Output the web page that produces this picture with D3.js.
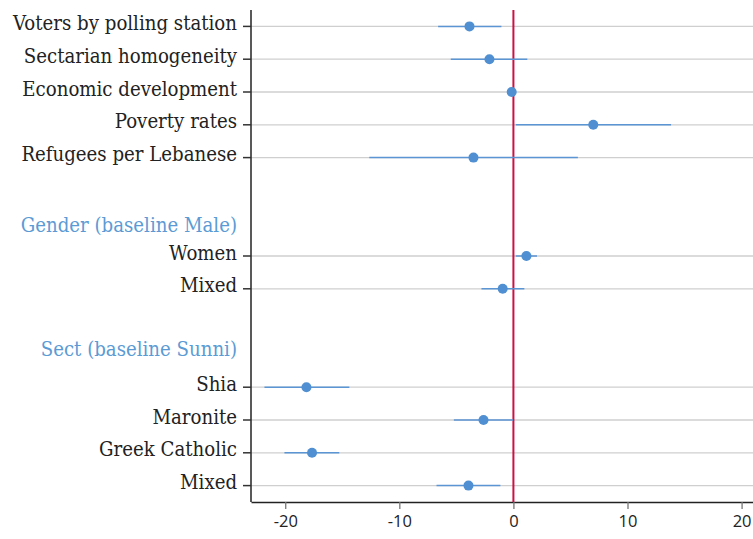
<!DOCTYPE html>
<html>
<head>
<meta charset="utf-8">
<script src="https://cdn.jsdelivr.net/npm/d3@7"></script>
<style>
  html, body { margin: 0; padding: 0; background: #fff; }
  svg { display: block; }
</style>
</head>
<body>
<script>
// Coefficient plot: point estimates with confidence intervals, grouped rows.
const terms = ["Voters by polling station", "Sectarian homogeneity", "Economic development",
  "Poverty rates", "Refugees per Lebanese", "Women", "Mixed", "Shia", "Maronite",
  "Greek Catholic", "Mixed"];
const rowIndex = [0, 1, 2, 3, 4, 7, 8, 11, 12, 13, 14];
const estimates = [-3.85, -2.1, -0.15, 7.0, -3.5, 1.14, -0.94, -18.14, -2.62, -17.65, -3.94];
const lower = [-6.6, -5.49, -0.3, 0.2, -12.63, 0.2, -2.8, -21.82, -5.22, -20.07, -6.74];
const upper = [-1.05, 1.22, 0.0, 13.82, 5.65, 2.07, 0.96, -14.38, -0.03, -15.26, -1.14];
const groupHeaders = ["Gender (baseline Male)", "Sect (baseline Sunni)"];
const groupRow = [6.15, 9.95];
const xTicks = [-20, -10, 0, 10, 20];

const W = 753, H = 539;
const plot = { left: 251, right: 753, top: 10, bottom: 502 };

const svg = d3.select("body").append("svg").attr("width", W).attr("height", H);

const x = d3.scaleLinear().domain([-23, 21]).range([plot.left, plot.right]);
const y = d3.scaleLinear().domain([-0.5, 14.5]).range([plot.top, plot.bottom]);

const rows = terms.map((t, i) => ({ term: t, row: rowIndex[i], est: estimates[i], lo: lower[i], hi: upper[i] }));

const labelFont = "'DejaVu Serif Condensed', 'DejaVu Serif', serif";
const labelSize = 20.2;

// gridlines for each term row
svg.append("g").selectAll("line").data(rows).join("line")
  .attr("x1", plot.left).attr("x2", plot.right)
  .attr("y1", d => y(d.row)).attr("y2", d => y(d.row))
  .attr("stroke", "#cfcfcf").attr("stroke-width", 1.3);

// y axis line and ticks
svg.append("line")
  .attr("x1", plot.left).attr("x2", plot.left)
  .attr("y1", plot.top).attr("y2", plot.bottom)
  .attr("stroke", "#222").attr("stroke-width", 1.5);
svg.append("g").selectAll("line").data(rows).join("line")
  .attr("x1", plot.left - 8).attr("x2", plot.left)
  .attr("y1", d => y(d.row)).attr("y2", d => y(d.row))
  .attr("stroke", "#333").attr("stroke-width", 1.5);

// term labels
svg.append("g").selectAll("text").data(rows).join("text")
  .attr("x", 237).attr("y", d => y(d.row) + 3.6)
  .attr("text-anchor", "end")
  .attr("font-family", labelFont).attr("font-size", labelSize)
  .attr("fill", "#222")
  .text(d => d.term);

// group headers
svg.append("g").selectAll("text").data(groupHeaders).join("text")
  .attr("x", 237).attr("y", (d, i) => y(groupRow[i]) + 3.6)
  .attr("text-anchor", "end")
  .attr("font-family", labelFont).attr("font-size", labelSize)
  .attr("fill", "#5b9bd5")
  .text(d => d);

// x axis
const xAxis = svg.append("g")
  .attr("transform", `translate(0,${plot.bottom})`)
  .call(d3.axisBottom(x).tickValues(xTicks).tickFormat(d => String(d))
    .tickSize(7).tickSizeOuter(0).tickPadding(6));
xAxis.select(".domain").attr("stroke", "#222").attr("stroke-width", 1.5);
xAxis.selectAll(".tick line").attr("stroke", "#777").attr("stroke-width", 1.3);
xAxis.selectAll(".tick text")
  .attr("font-family", "'Open Sans', sans-serif").attr("font-size", 16.5).attr("fill", "#222");

// reference line at zero
svg.append("line")
  .attr("x1", x(0)).attr("x2", x(0))
  .attr("y1", plot.top).attr("y2", plot.bottom)
  .attr("stroke", "#cc1144").attr("stroke-width", 2);

// confidence intervals
svg.append("g").selectAll("line").data(rows).join("line")
  .attr("x1", d => x(d.lo)).attr("x2", d => x(d.hi))
  .attr("y1", d => y(d.row)).attr("y2", d => y(d.row))
  .attr("stroke", "#5b95d4").attr("stroke-width", 1.5);

// point estimates
svg.append("g").selectAll("circle").data(rows).join("circle")
  .attr("cx", d => x(d.est)).attr("cy", d => y(d.row))
  .attr("r", 5)
  .attr("fill", "#4f8fd2");
</script>
</body>
</html>
